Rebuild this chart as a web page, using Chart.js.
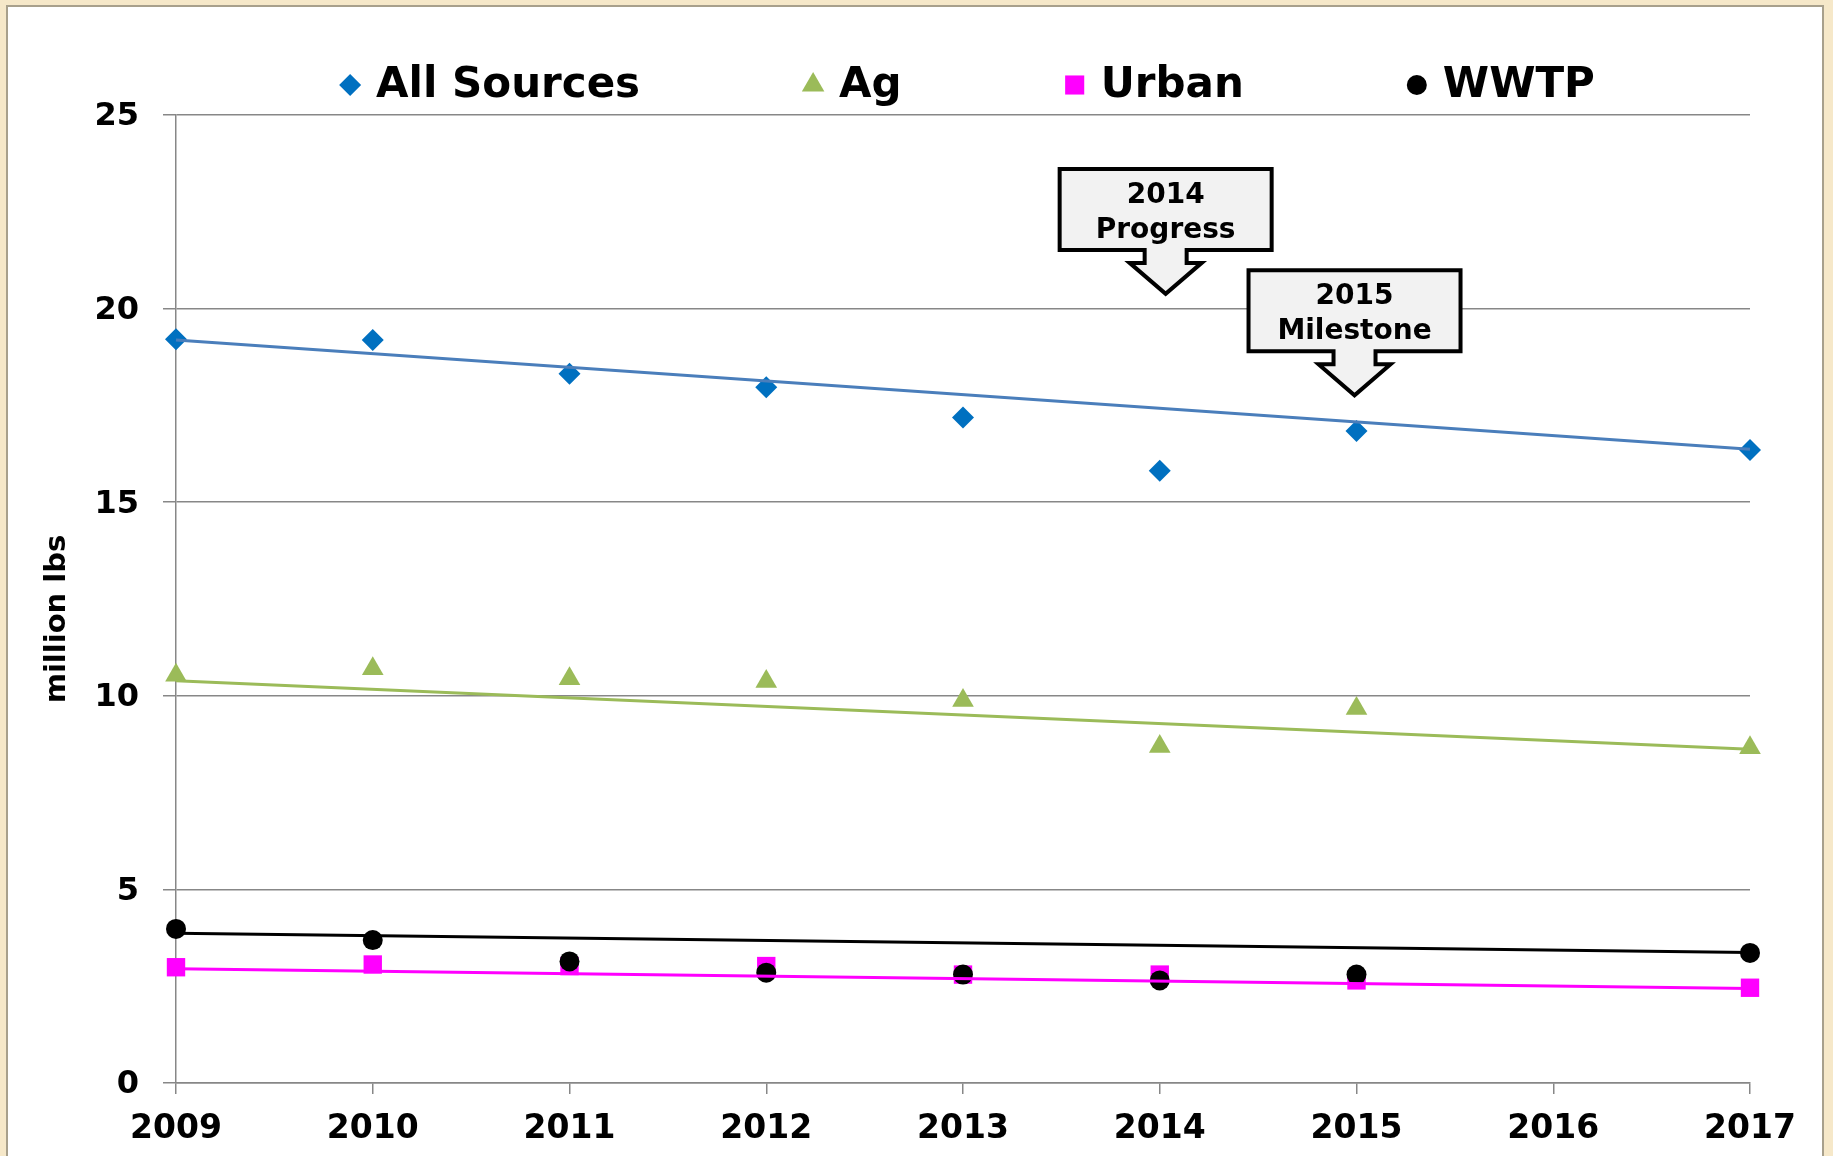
<!DOCTYPE html>
<html>
<head>
<meta charset="utf-8">
<script src="https://cdn.jsdelivr.net/npm/chart.js@4.4.1/dist/chart.umd.min.js"></script>
<style>
html,body{margin:0;padding:0;width:1833px;height:1156px;overflow:hidden;background:#f6e8c9;}
#panel{position:absolute;left:6px;top:5px;width:1818px;height:1170px;background:#ffffff;border:2px solid #a8a08c;box-sizing:border-box;}
#c{position:absolute;left:0;top:0;}
</style>
</head>
<body>
<div id="panel"></div>
<canvas id="c" width="1833" height="1156"></canvas>
<script>
// ---- data ----
const years = [2009, 2010, 2011, 2012, 2013, 2014, 2015, 2017];
const allSources = [19.21, 19.19, 18.32, 17.97, 17.19, 15.81, 16.84, 16.35];
const ag = [10.53, 10.70, 10.44, 10.37, 9.88, 8.69, 9.67, 8.66];
const urban = [2.99, 3.06, 3.02, 3.02, 2.80, 2.80, 2.65, 2.46];
const wwtp = [3.98, 3.69, 3.14, 2.85, 2.80, 2.65, 2.80, 3.36];

// straight trajectory lines (2009 -> 2017)
const trajYears = [2009, 2017];
const allTraj = [19.19, 16.37];
const agTraj = [10.39, 8.62];
const urbanTraj = [2.95, 2.44];
const wwtpTraj = [3.87, 3.37];

const xTickLabels = [2009, 2010, 2011, 2012, 2013, 2014, 2015, 2016, 2017];
const yTickLabels = [0, 5, 10, 15, 20, 25];
const yAxisTitle = 'million lbs';

// callout annotations
const calloutX = [2014.03, 2014.99];
const calloutTip = [20.38, 17.76];
const calloutLine1 = ['2014', '2015'];
const calloutLine2 = ['Progress', 'Milestone'];

const FONT = '"DejaVu Sans", Verdana, sans-serif';
const GRID = '#878787';

function pts(xs, ys) { return xs.map((x, i) => ({x: x, y: ys[i]})); }

const legendPlugin = {
  id: 'topLegend',
  afterDraw(chart) {
    const ctx = chart.ctx;
    const items = chart.data.datasets
      .filter(d => d.legendOrder !== undefined)
      .sort((a, b) => a.legendOrder - b.legendOrder);
    ctx.save();
    ctx.font = 'bold 42px ' + FONT;
    const gap = 166, lead = 33;
    const widths = items.map(d => lead + ctx.measureText(d.label).width);
    const total = widths.reduce((a, b) => a + b, 0) + gap * (items.length - 1);
    const ca = chart.chartArea;
    let x = (ca.left + ca.right) / 2 - total / 2 + 6;
    const y = 85;
    items.forEach((d, i) => {
      ctx.fillStyle = d.backgroundColor;
      ctx.strokeStyle = d.backgroundColor;
      Chart.helpers.drawPoint(ctx, {pointStyle: d.pointStyle, radius: d.legendRadius, rotation: 0, borderWidth: 0}, x + 7, y);
      ctx.fillStyle = '#000';
      ctx.textAlign = 'left';
      ctx.textBaseline = 'middle';
      ctx.fillText(d.label, x + lead, y + 1);
      x += widths[i] + gap;
    });
    // y axis title
    ctx.translate(57, (ca.top + ca.bottom) / 2 + 20);
    ctx.rotate(-Math.PI / 2);
    ctx.font = 'bold 29px ' + FONT;
    ctx.textAlign = 'center';
    ctx.textBaseline = 'middle';
    ctx.fillText(yAxisTitle, 0, 0);
    ctx.restore();
  }
};

const calloutPlugin = {
  id: 'callouts',
  afterDraw(chart) {
    const ctx = chart.ctx;
    const xs = chart.scales.x, ys = chart.scales.y;
    ctx.save();
    for (let i = 0; i < calloutX.length; i++) {
      const tx = xs.getPixelForValue(calloutX[i]);
      const ty = ys.getPixelForValue(calloutTip[i]);
      const hw = 106, top = ty - 125, bot = ty - 44, stem = 21, head = 36, sh = ty - 31;
      ctx.beginPath();
      ctx.moveTo(tx - hw, top);
      ctx.lineTo(tx + hw, top);
      ctx.lineTo(tx + hw, bot);
      ctx.lineTo(tx + stem, bot);
      ctx.lineTo(tx + stem, sh);
      ctx.lineTo(tx + head, sh);
      ctx.lineTo(tx, ty);
      ctx.lineTo(tx - head, sh);
      ctx.lineTo(tx - stem, sh);
      ctx.lineTo(tx - stem, bot);
      ctx.lineTo(tx - hw, bot);
      ctx.closePath();
      ctx.fillStyle = '#f2f2f2';
      ctx.fill();
      ctx.lineWidth = 4;
      ctx.lineJoin = 'miter';
      ctx.strokeStyle = '#000';
      ctx.stroke();
      ctx.fillStyle = '#000';
      ctx.font = 'bold 28px ' + FONT;
      ctx.textAlign = 'center';
      ctx.textBaseline = 'alphabetic';
      ctx.fillText(calloutLine1[i], tx, ty - 91);
      ctx.fillText(calloutLine2[i], tx, ty - 56);
    }
    ctx.restore();
  }
};

const ctx = document.getElementById('c').getContext('2d');
new Chart(ctx, {
  type: 'scatter',
  data: {
    datasets: [
      {label: 'All Sources', data: pts(years, allSources), showLine: false, pointStyle: 'rectRot', pointRadius: 11, pointHoverRadius: 11,
       backgroundColor: '#0070C0', borderColor: '#0070C0', pointBorderWidth: 0, order: 4, clip: false, legendOrder: 0, legendRadius: 11},
      {label: 'Ag', data: pts(years, ag), showLine: false, pointStyle: 'triangle', pointRadius: 12.5, pointHoverRadius: 12.5,
       backgroundColor: '#9BBB59', borderColor: '#9BBB59', pointBorderWidth: 0, order: 3, clip: false, legendOrder: 1, legendRadius: 13},
      {label: 'Urban', data: pts(years, urban), showLine: false, pointStyle: 'rect', pointRadius: 13, pointHoverRadius: 13,
       backgroundColor: '#FF00FF', borderColor: '#FF00FF', pointBorderWidth: 0, order: 2, clip: false, legendOrder: 2, legendRadius: 13.5},
      {label: 'WWTP', data: pts(years, wwtp), showLine: false, pointStyle: 'circle', pointRadius: 10, pointHoverRadius: 10,
       backgroundColor: '#000000', borderColor: '#000000', pointBorderWidth: 0, order: 1, clip: false, legendOrder: 3, legendRadius: 10},
      {label: 'All Sources trajectory', data: pts(trajYears, allTraj), showLine: true, pointRadius: 0, borderColor: '#4A7EBB', borderWidth: 3, order: 0, clip: false},
      {label: 'Ag trajectory', data: pts(trajYears, agTraj), showLine: true, pointRadius: 0, borderColor: '#9BBB59', borderWidth: 3, order: 0, clip: false},
      {label: 'Urban trajectory', data: pts(trajYears, urbanTraj), showLine: true, pointRadius: 0, borderColor: '#FF00FF', borderWidth: 3, order: 0, clip: false},
      {label: 'WWTP trajectory', data: pts(trajYears, wwtpTraj), showLine: true, pointRadius: 0, borderColor: '#000000', borderWidth: 3, order: 0, clip: false}
    ]
  },
  options: {
    responsive: false,
    animation: false,
    devicePixelRatio: 1,
    layout: {padding: {left: 0, right: 83, top: 115, bottom: 0}},
    plugins: {
      legend: {display: false},
      tooltip: {enabled: false}
    },
    scales: {
      x: {
        type: 'linear',
        min: 2009, max: 2017,
        afterBuildTicks: s => { s.ticks = xTickLabels.map(v => ({value: v})); },
        afterFit: s => { s.height = 73; },
        ticks: {
          autoSkip: false, maxRotation: 0, padding: 16, color: '#000',
          font: {family: FONT, size: 33, weight: 'bold'},
          callback: v => String(v)
        },
        grid: {drawOnChartArea: false, drawTicks: true, tickLength: 11, color: GRID, lineWidth: 1.5},
        border: {display: true, color: GRID, width: 1.5}
      },
      y: {
        min: 0, max: 25,
        afterBuildTicks: s => { s.ticks = yTickLabels.map(v => ({value: v})); },
        afterFit: s => { s.width = 176; },
        ticks: {
          padding: 24, color: '#000', labelOffset: 2,
          font: {family: FONT, size: 32, weight: 'bold'},
          callback: v => String(v)
        },
        grid: {color: GRID, lineWidth: 1.5, tickLength: 13, drawTicks: true},
        border: {display: true, color: GRID, width: 1.5},
        title: {display: false, text: yAxisTitle}
      }
    }
  },
  plugins: [legendPlugin, calloutPlugin]
});
</script>
</body>
</html>
